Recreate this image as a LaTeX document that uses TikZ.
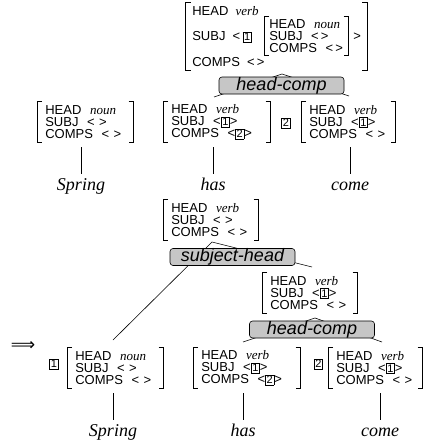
\documentclass[tikz,border=0pt]{standalone}
\usepackage{fontspec}
\setmainfont{Liberation Serif}
\setsansfont{Liberation Sans}
\newfontfamily\arrowfont{DejaVu Sans}
\usetikzlibrary{fit,backgrounds}
\newcommand{\avmfont}{\sffamily\fontsize{13}{12}\selectfont}
\newcommand{\avmval}[1]{{\rmfamily\itshape #1}}
\newcommand{\avmtag}[1]{{\setlength{\fboxsep}{0.9pt}\setlength{\fboxrule}{0.6pt}\fbox{\sffamily\fontsize{11}{11}\selectfont #1}}}

\begin{document}
\begin{tikzpicture}[
  x=10pt, y=-10pt, line width=0.6pt,
  avm/.style={
    font=\avmfont, align=left, anchor=west,
    inner xsep=8pt, inner ysep=0pt, minimum height=40pt
  },
  avmrow/.style={font=\avmfont, anchor=west, inner sep=0pt, text height=9.3pt, text depth=0pt},
  avmbracket/.style={line width=0.7pt},
  tagnode/.style={inner sep=0pt},
  rulebox/.style={
    draw, fill=gray!45, rounded corners=3pt,
    font=\sffamily\itshape\fontsize{18}{18}\selectfont,
    minimum width=125pt, inner ysep=0.5pt, text height=12.5pt, text depth=3.5pt
  },
  branch/.style={line width=0.6pt},
  wordlabel/.style={font=\rmfamily\itshape\fontsize{18}{18}\selectfont, anchor=base, inner sep=0pt, text height=12pt, text depth=4pt},
  wordstem/.style={shorten <=5pt, shorten >=4pt},
]

% ---------- Bracket macro ----------
\newcommand{\avmbrackets}[1]{%
  \draw[avmbracket] ([xshift=5pt]#1.north west) -- (#1.north west) -- (#1.south west) -- ([xshift=5pt]#1.south west);
  \draw[avmbracket] ([xshift=-5pt]#1.north east) -- (#1.north east) -- (#1.south east) -- ([xshift=-5pt]#1.south east);
}

\useasboundingbox (0,0) rectangle (42.7,44.7);

% ---------- Upper part: VP over has / come ----------
\node[avmrow] (vp1head)  at (19.2,1.1) {HEAD~~\avmval{verb}};
\node[avmrow] (vp1subj)  at (19.2,3.6) {SUBJ~~<\,\avmtag{1}};
\node[avm, inner xsep=5pt, text width=74pt, minimum height=38pt] (subj1) at (26.4,3.6)
  {HEAD~~\avmval{noun}\\SUBJ~~<\,>\\COMPS~~<\,>};
\node[avmrow] (vp1close) at (35.3,3.6) {>};
\node[avmrow] (vp1comps) at (19.2,6.2) {COMPS~~<\,>};
\node[fit=(vp1head)(vp1comps)(subj1)(vp1close), inner xsep=6pt, inner ysep=3.5pt] (vp1) {};
\avmbrackets{subj1}
\avmbrackets{vp1}

% daughters
\node[avm, text width=80pt] (sp1)   at (3.7,12.2)  {HEAD~~\avmval{noun}\\SUBJ~~<~>\\COMPS~~<~>};
\node[avm, text width=91pt] (has1)  at (16.3,12.2) {HEAD~~\avmval{verb}\\SUBJ~~<\avmtag{1}>\\COMPS~~<\avmtag{2}>};
\node[tagnode] (tag2a) at (28.6,12.3) {\avmtag{2}};
\node[avm, text width=78pt] (come1) at (30.1,12.2) {HEAD~~\avmval{verb}\\SUBJ~~<\avmtag{1}>\\COMPS~~<~>};
\avmbrackets{sp1}
\avmbrackets{has1}
\avmbrackets{come1}

\node[wordlabel] (spring1) at (8.1,19.05)  {Spring};
\node[wordlabel] (hasw1)   at (21.3,19.05) {has};
\node[wordlabel] (comew1)  at (35.0,19.05) {come};
\draw[wordstem] (spring1.north |- sp1.south) -- (spring1.north);
\draw[wordstem] (hasw1.north |- has1.south) -- (hasw1.north);
\draw[wordstem] (comew1.north |- come1.south) -- (comew1.north);

\coordinate (vp1foot) at (28.2,7.4);
\coordinate (hc1l)    at (21.4,9.7);
\coordinate (hc1r)    at (34.9,9.6);
\begin{scope}[on background layer]
  \draw[branch] (hc1l) -- (vp1foot) -- (hc1r);
\end{scope}
\node[rulebox] (hc1) at (28.15,8.55) {head-comp};

% ---------- Lower part: S over Spring and VP ----------
\node[avm, text width=79pt] (s2)  at (16.3,22.0) {HEAD~~\avmval{verb}\\SUBJ~~<~>\\COMPS~~<~>};
\node[avm, text width=79pt] (vp2) at (26.2,29.3) {HEAD~~\avmval{verb}\\SUBJ~~<\avmtag{1}>\\COMPS~~<~>};
\avmbrackets{s2}
\avmbrackets{vp2}

\node[font=\arrowfont\fontsize{17}{17}\selectfont, inner sep=0pt] (implies) at (2.3,34.65) {⟹};
\node[tagnode] (tag1) at (5.4,36.4) {\avmtag{1}};
\node[avm, text width=80pt] (sp2)   at (6.7,36.8)  {HEAD~~\avmval{noun}\\SUBJ~~<~>\\COMPS~~<~>};
\node[avm, text width=91pt] (has2)  at (19.3,36.8) {HEAD~~\avmval{verb}\\SUBJ~~<\avmtag{1}>\\COMPS~~<\avmtag{2}>};
\node[tagnode] (tag2b) at (31.85,36.4) {\avmtag{2}};
\node[avm, text width=78pt] (come2) at (32.8,36.8) {HEAD~~\avmval{verb}\\SUBJ~~<\avmtag{1}>\\COMPS~~<~>};
\avmbrackets{sp2}
\avmbrackets{has2}
\avmbrackets{come2}

\node[wordlabel] (spring2) at (11.3,43.65) {Spring};
\node[wordlabel] (hasw2)   at (24.3,43.65) {has};
\node[wordlabel] (comew2)  at (38.0,43.65) {come};
\draw[wordstem] (spring2.north |- sp2.south) -- (spring2.north);
\draw[wordstem] (hasw2.north |- has2.south) -- (hasw2.north);
\draw[wordstem] (comew2.north |- come2.south) -- (comew2.north);

\coordinate (s2foot)  at (21.2,24.2);
\coordinate (shl)     at (11.3,34.0);
\coordinate (shr)     at (31.2,26.7);
\coordinate (vp2foot) at (31.5,31.8);
\coordinate (hc2l)    at (24.3,34.2);
\coordinate (hc2r)    at (38.2,34.2);
\begin{scope}[on background layer]
  \draw[branch] (shl) -- (s2foot) -- (shr);
  \draw[branch] (hc2l) -- (vp2foot) -- (hc2r);
\end{scope}
\node[rulebox] (sh)  at (23.25,25.7) {subject-head};
\node[rulebox] (hc2) at (31.2,32.95) {head-comp};

\end{tikzpicture}
\end{document}
